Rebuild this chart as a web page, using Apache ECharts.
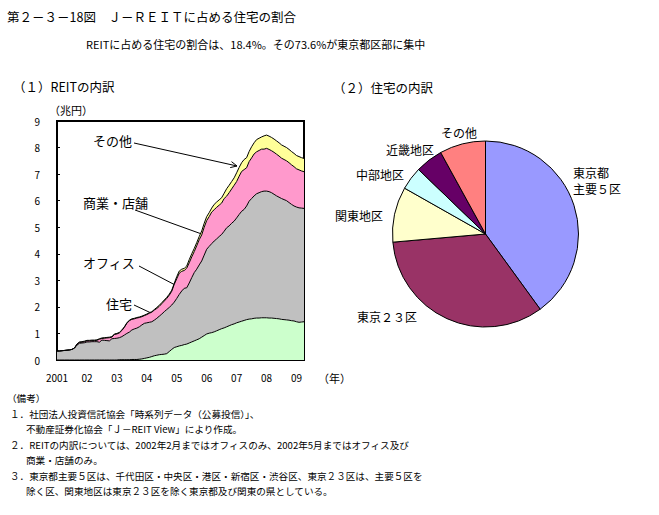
<!DOCTYPE html>
<html>
<head>
<meta charset="utf-8">
<script src="https://cdn.jsdelivr.net/npm/echarts@6/dist/echarts.min.js"></script>
<style>
html,body{margin:0;padding:0;background:#fff;}
#chart{width:659px;height:515px;}
</style>
</head>
<body>
<div id="chart"></div>
<script>
// ---- Data (trillion yen, monthly from Sep 2001) ----
const tickLabels = ['2001','02','03','04','05','06','07','08','09'];
const residential = [
0,0,0,0,0,0,0,0,0,0,
0,0,0,0,0,0,0,0,0,0,
0,0,0,0,0,0.01,0.01,0.01,0.01,0.01,
0.02,0.02,0.02,0.03,0.04,0.06,0.08,0.10,0.13,0.16,
0.18,0.20,0.21,0.22,0.24,0.32,0.40,0.47,0.50,0.53,
0.55,0.58,0.60,0.64,0.68,0.72,0.76,0.80,0.86,0.92,
0.98,1.01,1.03,1.06,1.10,1.14,1.18,1.21,1.25,1.29,
1.33,1.36,1.40,1.43,1.46,1.49,1.52,1.54,1.55,1.57,
1.58,1.58,1.59,1.59,1.59,1.58,1.58,1.57,1.56,1.55,
1.53,1.52,1.51,1.50,1.48,1.47,1.44,1.42,1.43,1.44];
const office = [
0.34,0.34,0.35,0.36,0.37,0.38,0.40,0.45,0.56,0.63,
0.64,0.65,0.68,0.68,0.69,0.69,0.69,0.67,0.75,0.74,
0.73,0.72,0.80,0.81,0.82,0.83,0.87,0.93,0.99,1.04,
1.11,1.15,1.18,1.22,1.28,1.32,1.32,1.32,1.31,1.34,
1.39,1.45,1.52,1.60,1.66,1.66,1.67,1.71,1.82,1.94,
2.05,2.12,2.12,2.26,2.42,2.57,2.66,2.78,2.87,3.03,
3.19,3.27,3.35,3.42,3.46,3.51,3.55,3.64,3.73,3.76,
3.82,3.87,3.95,4.05,4.14,4.18,4.28,4.44,4.53,4.61,
4.68,4.72,4.75,4.77,4.77,4.76,4.72,4.67,4.62,4.58,
4.55,4.52,4.49,4.43,4.38,4.33,4.32,4.31,4.29,4.27];
const commercial = [
0,0,0,0,0,0,0,0,0.04,0.03,
0.03,0.04,0.04,0.04,0.04,0.04,0.05,0.11,0.06,0.08,
0.10,0.12,0.06,0.15,0.16,0.18,0.23,0.29,0.38,0.43,
0.40,0.38,0.38,0.35,0.31,0.29,0.31,0.34,0.36,0.38,
0.37,0.37,0.39,0.40,0.42,0.46,0.52,0.67,0.74,0.80,
0.74,0.67,0.74,0.76,0.78,0.79,0.88,0.95,0.98,1.05,
1.08,1.12,1.19,1.18,1.19,1.18,1.18,1.23,1.19,1.25,
1.29,1.35,1.37,1.44,1.50,1.50,1.44,1.49,1.53,1.58,
1.58,1.59,1.60,1.58,1.61,1.59,1.58,1.58,1.57,1.55,
1.52,1.51,1.50,1.50,1.49,1.48,1.44,1.43,1.40,1.38];
const others = [
0,0,0,0,0,0,0,0,0,0.02,
0.02,0.02,0.02,0.02,0.02,0.02,0.02,0.02,0.02,0.02,
0.02,0.02,0.02,0.02,0.02,0.02,0.02,0.02,0.02,0.02,
0.02,0.02,0.02,0.02,0.02,0.02,0.02,0.02,0.02,0.02,
0.04,0.04,0.04,0.04,0.04,0.04,0.04,0.04,0.08,0.08,
0.08,0.08,0.08,0.12,0.12,0.12,0.12,0.12,0.15,0.15,
0.15,0.15,0.15,0.20,0.20,0.20,0.20,0.20,0.28,0.28,
0.28,0.28,0.33,0.33,0.33,0.38,0.38,0.38,0.42,0.42,
0.46,0.46,0.46,0.50,0.50,0.50,0.50,0.50,0.50,0.50,
0.50,0.50,0.50,0.50,0.50,0.50,0.50,0.50,0.50,0.50];
const pieNames = ['東京都\n主要５区','東京２３区','関東地区','中部地区','近畿地区','その他'];
const pieValues = [40.0, 33.6, 9.6, 4.0, 4.8, 8.0];

// months (categories)
const months = [];
for (let i = 0; i < residential.length; i++) {
  const m = 8 + i;
  months.push((2001 + Math.floor(m / 12)) + '/' + (m % 12 + 1));
}

const FONT = '"Noto Sans CJK JP", "Noto Sans", sans-serif';
const pieColors = ['#9999FF','#993366','#FFFFCC','#CCFFFF','#660066','#FF8080'];
const pieLabelPos = [
  {x:573, y:164, va:'top'},
  {x:357, y:316, va:'middle'},
  {x:335, y:215, va:'middle'},
  {x:356, y:174, va:'middle'},
  {x:386, y:149, va:'middle'},
  {x:441, y:132, va:'middle'}
];

function txt(text, x, y, size, align) {
  return {type:'text', silent:true, style:{text:text, x:x, y:y, fill:'#000',
    fontSize:size, fontFamily:FONT, textAlign:align||'left', textVerticalAlign:'middle'}};
}
function arrow(x1, y1, x2, y2) {
  const a = Math.atan2(y2 - y1, x2 - x1), L = 7, h = 0.45;
  return [
    {type:'line', silent:true, shape:{x1:x1,y1:y1,x2:x2,y2:y2}, style:{stroke:'#000', lineWidth:1}},
    {type:'polyline', silent:true, shape:{points:[
      [x2 - L*Math.cos(a - h), y2 - L*Math.sin(a - h)], [x2, y2],
      [x2 - L*Math.cos(a + h), y2 - L*Math.sin(a + h)]]}, style:{stroke:'#000', lineWidth:1, fill:null}}
  ];
}

const chart = echarts.init(document.getElementById('chart'), null, {renderer:'svg'});
const areaSeries = (name, data, color) => ({
  name:name, type:'line', stack:'total', data:data, symbol:'none', xAxisIndex:0, yAxisIndex:0,
  lineStyle:{color:'#000', width:1}, areaStyle:{color:color, opacity:1}, itemStyle:{color:color},
  emphasis:{disabled:true}, animation:false
});

const footY = [398, 414, 429, 445, 460, 476, 491];
const footLines = [
  ['（備考）', 7],
  ['１．社団法人投資信託協会「時系列データ（公募投信）」、', 10],
  ['不動産証券化協会「Ｊ－REIT View」により作成。', 26],
  ['２．REITの内訳については、2002年2月まではオフィスのみ、2002年5月まではオフィス及び', 10],
  ['商業・店舗のみ。', 26],
  ['３．東京都主要５区は、千代田区・中央区・港区・新宿区・渋谷区、東京２３区は、主要５区を', 10],
  ['除く区、関東地区は東京２３区を除く東京都及び関東の県としている。', 26]
];

let graphics = [
  txt('第２－３－18図　Ｊ－ＲＥＩＴに占める住宅の割合', 7, 16, 12.5),
  txt('REITに占める住宅の割合は、18.4%。その73.6%が東京都区部に集中', 86, 44, 11),
  txt('（１）REITの内訳', 13, 86, 12.5),
  txt('（２）住宅の内訳', 333, 87, 12.5),
  txt('（兆円）', 49, 110, 11),
  txt('（年）', 318, 378, 11),
  txt('その他', 93, 140, 13),
  txt('商業・店舗', 83, 202, 13),
  txt('オフィス', 83, 262, 13),
  txt('住宅', 106, 303, 13)
];
graphics = graphics
  .concat(arrow(134, 143, 237, 166))
  .concat(arrow(135, 210, 210, 237))
  .concat(arrow(139, 266, 217, 307))
  .concat(arrow(134, 305, 228, 349));
footLines.forEach((l, i) => graphics.push(txt(l[0], l[1], footY[i], 9.6)));

chart.setOption({
  animation:false,
  backgroundColor:'#fff',
  textStyle:{fontFamily:FONT},
  grid:{left:57, top:121, width:247, height:239, show:true, borderColor:'#000', borderWidth:2, backgroundColor:'transparent', containLabel:false},
  xAxis:{type:'category', data:months, boundaryGap:false,
    axisLine:{show:true, lineStyle:{color:'#000', width:2}},
    axisTick:{show:false},
    axisLabel:{interval:11, color:'#000', fontSize:10, margin:12, fontFamily:FONT,
      formatter:(v, i) => tickLabels[Math.round(i / 12)] || ''},
    splitLine:{show:false}},
  yAxis:{type:'value', min:0, max:9, interval:1,
    axisLine:{show:true, lineStyle:{color:'#000', width:2}},
    axisTick:{show:true, inside:true, length:3, lineStyle:{color:'#000'}},
    axisLabel:{color:'#000', fontSize:10, margin:17, fontFamily:FONT},
    splitLine:{show:false}},
  series:[
    areaSeries('住宅', residential, '#CCFFCC'),
    areaSeries('オフィス', office, '#C0C0C0'),
    areaSeries('商業・店舗', commercial, '#FF99CC'),
    areaSeries('その他', others, '#FFFF99'),
    {
      type:'pie', center:[485.5, 234], radius:93, startAngle:90, clockwise:true,
      animation:false, silent:true,
      itemStyle:{borderColor:'#000', borderWidth:1},
      label:{show:true, position:'outside', alignTo:'none', overflow:'none', edgeDistance:0,
        color:'#000', fontSize:12, fontFamily:FONT, lineHeight:16,
        formatter:p => p.name},
      labelLine:{show:false},
      labelLayout:p => {
        const pos = pieLabelPos[p.dataIndex];
        return {x:pos.x, y:pos.y, align:'left', verticalAlign:pos.va};
      },
      data:pieNames.map((n, i) => ({name:n, value:pieValues[i], itemStyle:{color:pieColors[i]}}))
    }
  ],
  graphic:graphics
});
</script>
</body>
</html>
